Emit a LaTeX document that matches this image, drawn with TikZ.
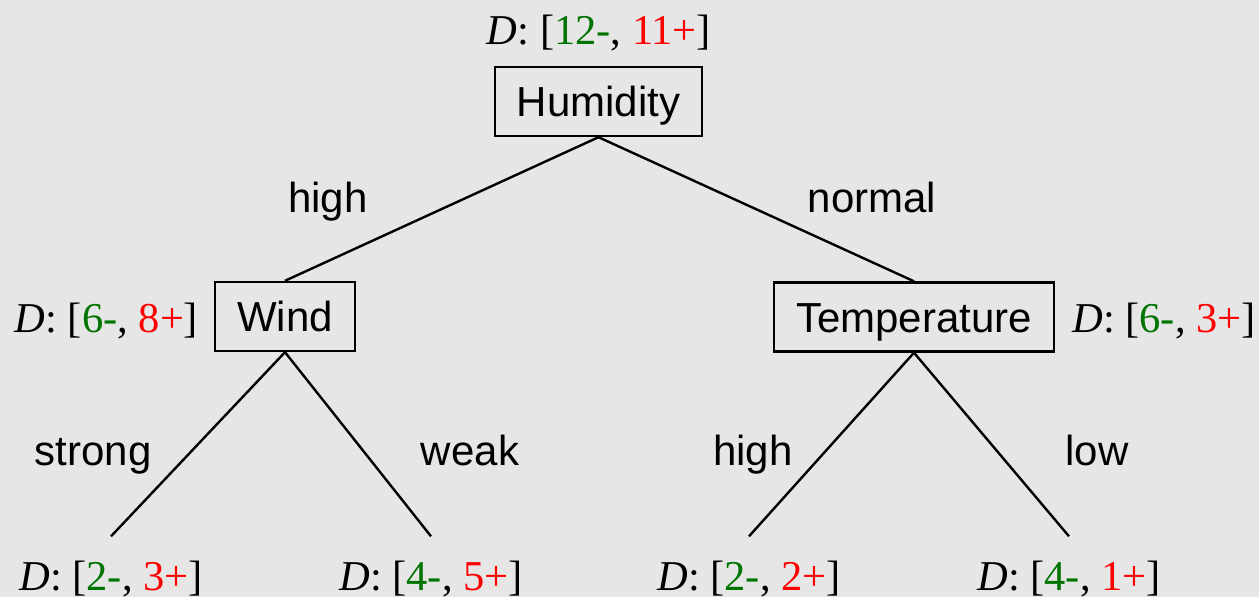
\documentclass[tikz,border=0pt]{standalone}
\usepackage{fontspec}
\setmainfont{Liberation Serif}
\setsansfont{Liberation Sans}
\definecolor{bg}{HTML}{E6E6E6}
\definecolor{cminus}{HTML}{007400}
\definecolor{cplus}{HTML}{FF0000}
\newcommand{\dlab}[2]{\textit{D}: [\textcolor{cminus}{#1-}, \textcolor{cplus}{#2+}]}
\begin{document}
\begin{tikzpicture}[x=1pt,y=-1pt,
  attr/.style={draw=black,line width=2.4pt,font=\sffamily\fontsize{42}{48}\selectfont,inner sep=0pt,
    text height=30pt,text depth=0pt,minimum height=69pt},
  dtext/.style={font=\rmfamily\fontsize{42.5}{50}\selectfont,inner sep=0pt,anchor=base},
  leaf/.style={font=\rmfamily\fontsize{42.5}{50}\selectfont,inner xsep=0pt,inner ysep=24pt,anchor=base},
  elab/.style={font=\sffamily\fontsize{42}{48}\selectfont,inner sep=0pt,anchor=base},
  edge/.style={line width=2.4pt}]
\fill[bg] (0,0) rectangle (1259,597);
\useasboundingbox (0,0) rectangle (1259,597);
% internal nodes
\node[attr,minimum width=207pt] (hum) at (598.5,101.5) {Humidity};
\node[attr,minimum width=140pt] (wind) at (285,316.5) {Wind};
\node[attr,minimum width=280pt] (temp) at (914,317) {Temperature};
% dataset labels
\node[dtext] (dhum) at (599,44) {\dlab{12}{11}};
\node[dtext] (dwind) at (106.5,332) {\dlab{6}{8}};
\node[dtext] (dtemp) at (1164,332) {\dlab{6}{3}};
% leaves
\node[leaf] (l1) at (111,590) {\dlab{2}{3}};
\node[leaf] (l2) at (431,590) {\dlab{4}{5}};
\node[leaf] (l3) at (749,590) {\dlab{2}{2}};
\node[leaf] (l4) at (1069,590) {\dlab{4}{1}};
% edges
\draw[edge] (hum.south) -- (wind.north);
\draw[edge] (hum.south) -- (temp.north);
\draw[edge] (wind.south) -- (l1.north);
\draw[edge] (wind.south) -- (l2.north);
\draw[edge] (temp.south) -- (l3.north);
\draw[edge] (temp.south) -- (l4.north);
% edge labels
\node[elab] (e1) at (328,212) {high};
\node[elab] (e2) at (872,212) {normal};
\node[elab] (e3) at (93,465) {strong};
\node[elab] (e4) at (470,465) {weak};
\node[elab] (e5) at (753,465) {high};
\node[elab] (e6) at (1097,465) {low};
\end{tikzpicture}
\end{document}
